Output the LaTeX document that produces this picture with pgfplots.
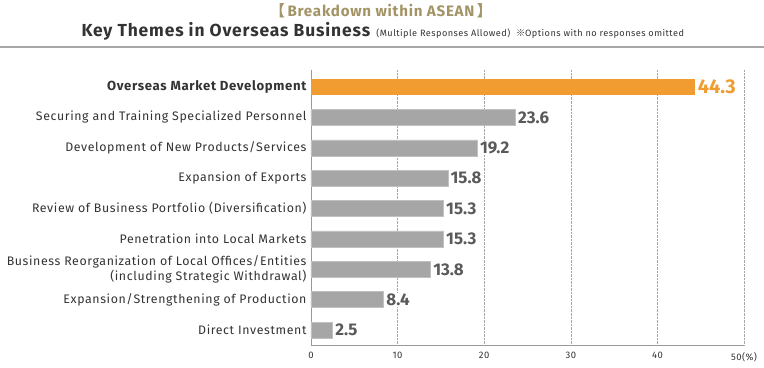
\documentclass[border=0pt]{standalone}
\usepackage{pgfplots}
\pgfplotsset{compat=1.18}
\usepackage{fontspec}
\setmainfont{Fira Sans}[LetterSpace=5]
\newfontfamily\cjk{Noto Sans CJK JP}
\newfontfamily\numfont{Fira Sans}
\definecolor{barorange}{HTML}{F09C30}
\definecolor{bargray}{HTML}{A6A6A6}
\definecolor{labgray}{HTML}{5A5A5A}
\definecolor{txt}{HTML}{333333}
\definecolor{gold}{HTML}{A39466}
\begin{document}
\begin{tikzpicture}[x=1bp,y=1bp]
\path[use as bounding box] (-311,-22) rectangle (453,345);
\begin{axis}[
  at={(0,0)}, anchor=south west,
  scale only axis, width=433bp, height=275bp,
  xbar, bar width=16bp,
  xmin=0, xmax=50,
  ymin=-0.56, ymax=8.49, y dir=reverse,
  axis x line*=bottom, axis y line*=left,
  axis line style={draw=gray!80, line width=0.8pt},
  xtick={0,10,20,30,40,50},
  xticklabels={0,10,20,30,40,{50(\%)}},
  xticklabel style={font=\fontsize{9.5}{10}\selectfont, text=txt, yshift=-4bp},
  /pgf/number format/assume math mode=true,
  major tick length=0pt,
  xmajorgrids, grid style={densely dotted, gray!70, line width=0.6pt},
  ytick={0,...,8},
  yticklabels={{\fontsize{13.2}{13}\selectfont\bfseries Overseas Market Development},
    Securing and Training Specialized Personnel,
    Development of New Products/Services,
    Expansion of Exports,
    Review of Business Portfolio (Diversification),
    Penetration into Local Markets,
    {Business Reorganization of Local Offices/Entities\\(including Strategic Withdrawal)},
    Expansion/Strengthening of Production,
    Direct Investment},
  yticklabel style={font=\fontsize{12.4}{12}\selectfont, text=txt, align=right, xshift=-1bp},
  nodes near coords,
  every node near coord/.append style={font=\numfont\fontsize{17}{17}\selectfont\bfseries, text=labgray, anchor=west, xshift=1.5bp, fill=white, inner xsep=1bp, inner ysep=1bp},
]
\addplot[fill=barorange, draw=none, bar shift=0pt,
  every node near coord/.append style={font=\numfont\fontsize{20}{20}\selectfont\bfseries, text=barorange, xshift=0.5bp}]
  coordinates {(44.3,0)};
\addplot[fill=bargray, draw=bargray!70!white, line width=0.5pt, bar shift=0pt]
  coordinates {(23.6,1) (19.2,2) (15.8,3) (15.3,4) (15.3,5) (13.8,6) (8.4,7) (2.5,8)};
\end{axis}
\draw[gray!70, line width=1.5pt] (-311,298) -- (453,298);
\node[font=\fontsize{15.2}{15}\selectfont\bfseries, text=gold] at (70,334) {{\cjk 【}\,Breakdown within ASEAN\,{\cjk 】}};
\node[text=txt, anchor=base west] at (-233,309) {{\fontsize{17.5}{18}\selectfont\bfseries Key Themes in Overseas Business}\ \ {\fontsize{9.2}{9}\selectfont (Multiple Responses Allowed)\ \ {\cjk ※}Options with no responses omitted}};
\end{tikzpicture}
\end{document}
